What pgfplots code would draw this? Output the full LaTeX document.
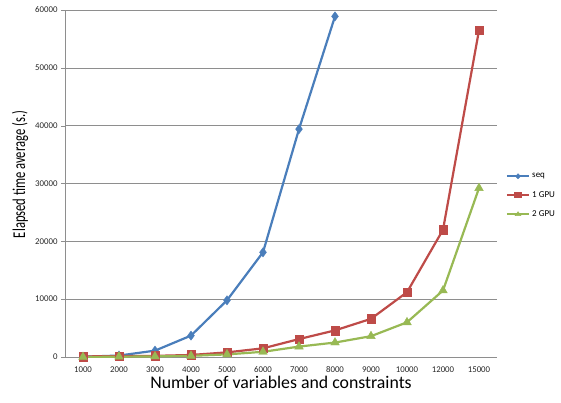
\documentclass[border=0pt]{standalone}
\usepackage{fontspec}
\setmainfont{Carlito}
\usepackage{graphicx}
\usepackage{pgfplots}
\pgfplotsset{compat=1.18}

\definecolor{xlblue}{HTML}{4A7EBB}
\definecolor{xlred}{HTML}{BE4B48}
\definecolor{xlgreen}{HTML}{98B954}
\definecolor{gridgray}{HTML}{8E8E8E}

\begin{document}
\begin{tikzpicture}[x=1pt,y=1pt]
\path (0,0) rectangle (561,402);
\begin{axis}[
    at={(65pt,45pt)}, anchor=south west,
    scale only axis,
    width=432pt, height=347pt,
    xmin=-0.5, xmax=11.5,
    ymin=0, ymax=60000,
    axis lines=left,
    axis line style={-, gridgray},
    xtick={0,...,11},
    xticklabels={1000,2000,3000,4000,5000,6000,7000,8000,9000,10000,12000,15000},
    minor xtick={-0.5,0.5,...,11.5},
    xtick style={draw=none},
    minor x tick style={gridgray},
    minor tick length=4pt,
    ytick={0,10000,...,60000},
    scaled y ticks=false,
    ytick style={gridgray},
    major tick length=4pt,
    tick align=outside,
    ymajorgrids=true,
    major grid style={draw=gridgray, line width=0.6pt},
    /pgf/number format/1000 sep={},
    /pgf/number format/assume math mode=true,
    tick label style={font=\fontsize{8.8}{10}\selectfont, text=black!85},
    xticklabel style={yshift=-2pt},
    xlabel={Number of variables and constraints},
    ylabel={\scalebox{0.7}[1]{Elapsed time average (s.)}},
    xlabel style={font=\fontsize{17.8}{20}\selectfont, yshift=3pt},
    ylabel style={font=\fontsize{18}{20}\selectfont, yshift=0pt, xshift=9pt},
    legend style={at={(1.02,0.465)}, anchor=west, draw=none, fill=none,
        inner xsep=0pt, font=\fontsize{9}{10}\selectfont, row sep=8pt},
    legend cell align=left,
    legend image post style={xscale=1.3, mark size=2.6pt},
    every axis plot/.append style={line width=2.2pt},
]
\addplot[color=xlblue, mark=diamond*, mark size=4.6pt, mark options={line width=0.4pt}]
coordinates {
    (0,50) (1,250) (2,1100) (3,3700) (4,9800) (5,18100) (6,39400) (7,58900)
};
\addlegendentry{seq}
\addplot[color=xlred, mark=square*, mark size=4.3pt, mark options={line width=0.4pt}]
coordinates {
    (0,100) (1,150) (2,200) (3,350) (4,800) (5,1500) (6,3100) (7,4600)
    (8,6600) (9,11200) (10,22000) (11,56500)
};
\addlegendentry{1 GPU}
\addplot[color=xlgreen, mark=triangle*, mark size=5pt, mark options={line width=0.4pt}]
coordinates {
    (0,0) (1,50) (2,100) (3,200) (4,450) (5,900) (6,1800) (7,2500)
    (8,3600) (9,6000) (10,11500) (11,29200)
};
\addlegendentry{2 GPU}
\end{axis}
\end{tikzpicture}
\end{document}
